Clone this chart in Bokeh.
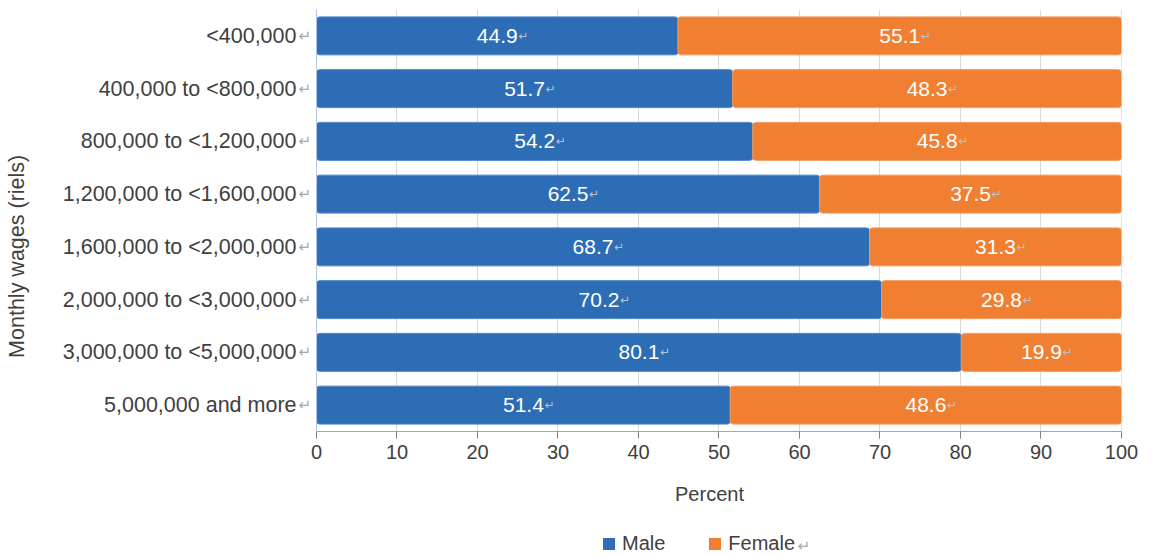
import math
from bokeh.plotting import figure
from bokeh.layouts import column
from bokeh.models import (FactorRange, Range1d, ColumnDataSource, Legend, LegendItem,
                          Span, FixedTicker, Label)
from bokeh.core.properties import value
from bokeh.embed import file_html
from bokeh.resources import INLINE

categories = ["<400,000", "400,000 to <800,000", "800,000 to <1,200,000",
              "1,200,000 to <1,600,000", "1,600,000 to <2,000,000",
              "2,000,000 to <3,000,000", "3,000,000 to <5,000,000",
              "5,000,000 and more"]
male = [44.9, 51.7, 54.2, 62.5, 68.7, 70.2, 80.1, 51.4]
female = [55.1, 48.3, 45.8, 37.5, 31.3, 29.8, 19.9, 48.6]
x_ticks = [0, 10, 20, 30, 40, 50, 60, 70, 80, 90, 100]
series = ["Male", "Female"]

FONT = "Liberation Sans"
FS = "20px"
FS_Y = "21.5px"
BLUE = "#2d6db5"
ORANGE = "#f07f32"
TXT = "#404040"
ARROW = "#a6a6a6"
NBSP = "\u00a0"

src = ColumnDataSource(dict(
    cat=categories,
    male=male,
    female=female,
    total=[m + f for m, f in zip(male, female)],
    male_mid=[m / 2 for m in male],
    female_mid=[m + f / 2 for m, f in zip(male, female)],
    male_txt=[f"{v:.1f}" for v in male],
    female_txt=[f"{v:.1f}" for v in female],
    zero=[0] * len(categories),
))

XPAD = 2.36  # room left of 0 for the paragraph marks after the category labels
p = figure(width=1156, height=512,
           y_range=FactorRange(factors=categories[::-1], range_padding=0),
           x_range=Range1d(-XPAD, 100),
           output_backend="svg", toolbar_location=None,
           min_border_left=297, min_border_right=35,
           min_border_top=9, min_border_bottom=81)
p.outline_line_color = None
p.background_fill_color = "white"

p.ygrid.grid_line_color = None
p.xgrid.ticker = FixedTicker(ticks=x_ticks)
p.xgrid.grid_line_color = "#d9d9d9"
p.add_layout(Span(location=0, dimension="height", line_color="#b4c7e7", line_width=1))
p.add_layout(Span(location=100, dimension="height", line_color="#b4c7e7", line_width=1))

p.hbar(y="cat", left="zero", right="male", height=0.72, source=src,
       fill_color=BLUE, line_color="#4d86c6", line_width=1, border_radius=3)
p.hbar(y="cat", left="male", right="total", height=0.72, source=src,
       fill_color=ORANGE, line_color="#f39a5c", line_width=1, border_radius=3)

for xcol, tcol in (("male_mid", "male_txt"), ("female_mid", "female_txt")):
    p.text(x=xcol, y="cat", text=tcol, source=src, text_align="center",
           text_baseline="middle", text_color="white", text_font=value(FONT),
           text_font_size="21px")
    p.text(x=xcol, y="cat", text=value("\u21b5"), source=src, x_offset=21,
           text_align="left", text_baseline="middle", text_color="#b9c3d0",
           text_font=value("DejaVu Sans"), text_font_size="12px")

# paragraph marks after the category labels
p.text(x="zero", y="cat", text=value("\u21b5"), source=src, x_offset=-18,
       text_align="left", text_baseline="middle", text_color=ARROW,
       text_font=value("DejaVu Sans"), text_font_size="15px")

xa = p.xaxis[0]
xa.ticker = FixedTicker(ticks=x_ticks)
xa.bounds = (0, 100)
xa.axis_line_color = "#a6a6a6"
xa.major_tick_line_color = "#7f7f7f"
xa.major_tick_out = 7
xa.major_tick_in = 0
xa.minor_tick_line_color = None
xa.major_label_text_font = FONT
xa.major_label_text_font_size = FS
xa.major_label_text_color = TXT
xa.major_label_standoff = 6
xa.axis_label = "Percent"
xa.axis_label_text_font = FONT
xa.axis_label_text_font_size = FS
xa.axis_label_text_font_style = "normal"
xa.axis_label_text_color = TXT
xa.axis_label_standoff = 21

ya = p.yaxis[0]
ya.axis_line_color = None
ya.major_tick_line_color = None
ya.minor_tick_line_color = None
ya.major_tick_out = 0
ya.major_label_text_font = FONT
ya.major_label_text_font_size = FS_Y
ya.major_label_text_color = TXT
ya.major_label_standoff = 1
ya.axis_label = "Monthly wages (riels)" + NBSP * 12
ya.axis_label_text_font = FONT
ya.axis_label_text_font_size = FS_Y
ya.axis_label_text_font_style = "normal"
ya.axis_label_text_color = TXT
ya.axis_label_standoff = 31

# legend strip below the chart (its zero-height bars lie outside its view; only the legend shows)
pl = figure(width=1156, height=45, x_range=Range1d(-2, -1),
            y_range=FactorRange(factors=categories[::-1], range_padding=0),
            output_backend="svg", toolbar_location=None,
            min_border_left=0, min_border_right=0, min_border_top=0, min_border_bottom=0)
pl.axis.visible = False
pl.grid.grid_line_color = None
pl.outline_line_color = None
g_m = pl.hbar(y="cat", left="zero", right="male", height=0, source=src,
              fill_color=BLUE, line_color=None)
g_f = pl.hbar(y="cat", left="male", right="total", height=0, source=src,
              fill_color=ORANGE, line_color=None)
legend = Legend(items=[LegendItem(label=series[0], renderers=[g_m]),
                       LegendItem(label=series[1], renderers=[g_f])],
                location=(304, 2), orientation="horizontal",
                glyph_width=15, glyph_height=15, label_standoff=6, spacing=42,
                padding=0, margin=0, border_line_color=None,
                background_fill_alpha=0,
                label_text_font=FONT, label_text_font_size=FS,
                label_text_color=TXT)
pl.add_layout(legend, "center")
pl.add_layout(Label(x=500, y=12, x_units="screen", y_units="screen", text="\u21b5",
                    text_align="left", text_baseline="middle",
                    text_font="DejaVu Sans", text_font_size="15px", text_color=ARROW))

layout = column(p, pl, spacing=0)
open("out.html", "w").write(file_html(layout, INLINE))
